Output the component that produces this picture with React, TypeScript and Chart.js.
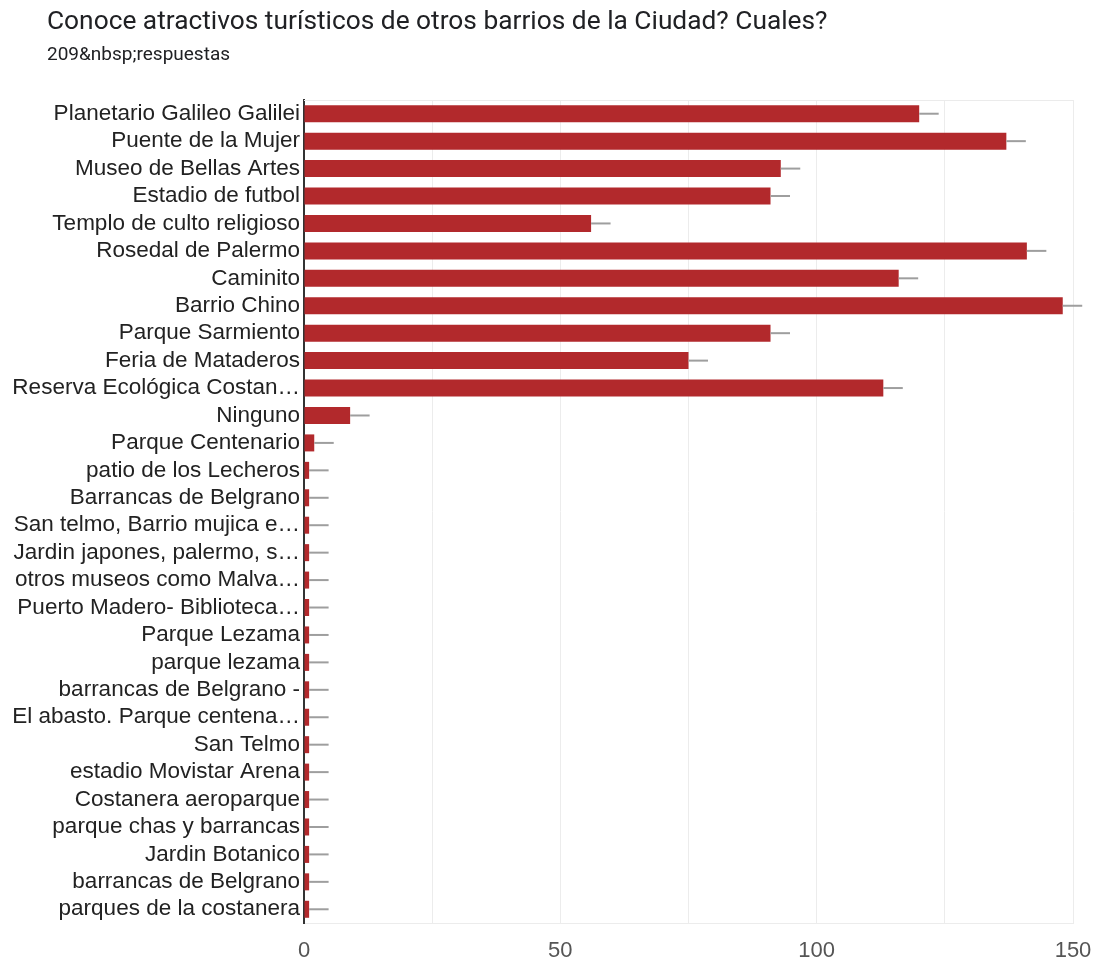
import React, { useEffect, useRef } from "react";
import { Chart, registerables } from "chart.js";

Chart.register(...registerables);

const TITLE = "Conoce atractivos turísticos de otros barrios de la Ciudad? Cuales?";
const SUBTITLE = "209&nbsp;respuestas";

const categories: string[] = [
  "Planetario Galileo Galilei",
  "Puente de la Mujer",
  "Museo de Bellas Artes",
  "Estadio de futbol",
  "Templo de culto religioso",
  "Rosedal de Palermo",
  "Caminito",
  "Barrio Chino",
  "Parque Sarmiento",
  "Feria de Mataderos",
  "Reserva Ecológica Costan…",
  "Ninguno",
  "Parque Centenario",
  "patio de los Lecheros",
  "Barrancas de Belgrano",
  "San telmo, Barrio mujica e…",
  "Jardin japones, palermo, s…",
  "otros museos como Malva…",
  "Puerto Madero- Biblioteca…",
  "Parque Lezama",
  "parque lezama",
  "barrancas de Belgrano -",
  "El abasto. Parque centena…",
  "San Telmo",
  "estadio Movistar Arena",
  "Costanera aeroparque",
  "parque chas y barrancas",
  "Jardin Botanico",
  "barrancas de Belgrano",
  "parques de la costanera",
];

const counts: number[] = [
  120, 137, 93, 91, 56, 141, 116, 148, 91, 75, 113, 9, 2,
  1, 1, 1, 1, 1, 1, 1, 1, 1, 1, 1, 1, 1, 1, 1, 1, 1,
];

const errorMargins: number[] = [
  3.8, 3.8, 3.8, 3.8, 3.8, 3.8, 3.8, 3.8, 3.8, 3.8, 3.8, 3.8, 3.8,
  3.8, 3.8, 3.8, 3.8, 3.8, 3.8, 3.8, 3.8, 3.8, 3.8, 3.8, 3.8, 3.8, 3.8, 3.8, 3.8, 3.8,
];

const xTicks: number[] = [0, 50, 100, 150];

const errorBarPlugin = {
  id: "errorBars",
  beforeDatasetsDraw(chart: any) {
    const { ctx, chartArea } = chart;
    ctx.save();
    ctx.strokeStyle = "#ebebeb";
    ctx.lineWidth = 1;
    ctx.beginPath();
    ctx.moveTo(chartArea.left, chartArea.top + 0.5);
    ctx.lineTo(chartArea.right, chartArea.top + 0.5);
    ctx.stroke();
    ctx.restore();
  },
  afterDatasetsDraw(chart: any) {
    const { ctx } = chart;
    const xs = chart.scales.x;
    const ys = chart.scales.y;
    ctx.save();
    ctx.strokeStyle = "#9e9e9e";
    ctx.lineWidth = 2;
    counts.forEach((v, i) => {
      const y = ys.getPixelForValue(i);
      const x0 = xs.getPixelForValue(v);
      const x1 = xs.getPixelForValue(v + errorMargins[i]);
      ctx.beginPath();
      ctx.moveTo(x0, y);
      ctx.lineTo(x1, y);
      ctx.stroke();
    });
    ctx.restore();
  },
};

export default function App() {
  const ref = useRef<HTMLCanvasElement | null>(null);
  useEffect(() => {
    if (!ref.current) return;
    const chart = new Chart(ref.current, {
      type: "bar",
      data: {
        labels: categories,
        datasets: [
          {
            data: counts,
            backgroundColor: "#b2292c",
            borderWidth: 0,
            barPercentage: 0.62,
            categoryPercentage: 1,
          },
        ],
      },
      options: {
        indexAxis: "y",
        responsive: false,
        animation: false,
        maintainAspectRatio: false,
        layout: { padding: { left: 0, right: 22, top: 100, bottom: 0 } },
        plugins: {
          legend: { display: false },
          tooltip: { enabled: false },
          title: { display: false },
        },
        scales: {
          x: {
            min: 0,
            max: 150,
            ticks: {
              stepSize: 25,
              autoSkip: false,
              maxRotation: 0,
              padding: 15,
              color: "#555",
              font: { family: "'Liberation Sans', Arial, sans-serif", size: 22 },
              callback: (val: any) => (xTicks.includes(Number(val)) ? String(val) : ""),
            },
            grid: { color: "#ececec", drawTicks: false, lineWidth: 1 },
            border: { display: true, color: "#ececec" },
            afterFit: (s: any) => {
              s.height = 37;
              s.paddingLeft = 0;
              s.paddingRight = 0;
            },
          },
          y: {
            ticks: {
              autoSkip: false,
              padding: 4,
              color: "#222",
              font: { family: "'Liberation Sans', Arial, sans-serif", size: 22.5 },
            },
            grid: { display: false, drawTicks: false },
            border: { display: true, color: "#333", width: 2 },
            afterFit: (s: any) => {
              s.width = 304;
              s.paddingTop = 0;
              s.paddingBottom = 0;
            },
          },
        },
      },
      plugins: [errorBarPlugin],
    });
    return () => chart.destroy();
  }, []);

  return (
    <div style={{ position: "fixed", left: 0, top: 0, width: 1095, height: 960, background: "#fff" }}>
      <canvas ref={ref} width={1095} height={960} style={{ position: "absolute", left: 0, top: 0 }} />
      <div
        style={{
          position: "absolute",
          left: 47,
          top: 5,
          fontFamily: "Roboto, sans-serif",
          fontSize: 26.3,
          color: "#202124",
          whiteSpace: "nowrap",
        }}
      >
        {TITLE}
      </div>
      <div
        style={{
          position: "absolute",
          left: 47,
          top: 42,
          fontFamily: "Roboto, sans-serif",
          fontSize: 19,
          color: "#202124",
          whiteSpace: "nowrap",
        }}
      >
        {SUBTITLE}
      </div>
    </div>
  );
}
